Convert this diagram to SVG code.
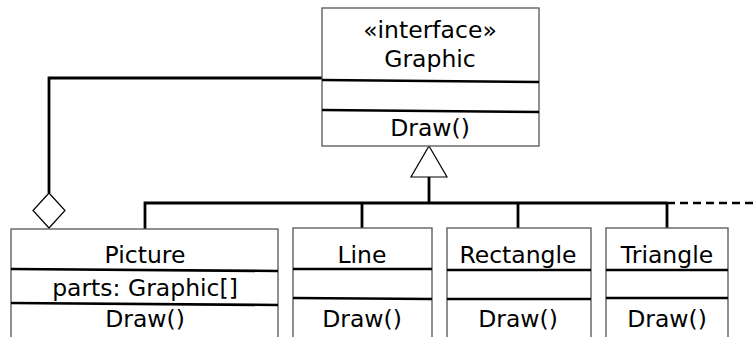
<svg xmlns="http://www.w3.org/2000/svg" width="756" height="337" viewBox="0 0 756 337">
<style>
.box{fill:#fff;stroke:#555;stroke-width:1.3}
.sep{stroke:#000;stroke-width:2.6}
.conn{fill:none;stroke:#000;stroke-width:2.8}
.dash{fill:none;stroke:#000;stroke-width:2.4;stroke-dasharray:8,5}
.head{fill:#fff;stroke:#000;stroke-width:1.2}
text{font-family:"DejaVu Sans","Noto Sans",sans-serif;font-size:23.5px;fill:#000;text-anchor:middle}
</style>
<rect width="756" height="337" fill="#fff"/>
<g id="connectors">
<path class="conn" d="M322 78 H49 V193"/>
<path class="conn" d="M145 229 V203 H667 M362 203 V228 M518 203 V228 M667 203 V228 M429 177 V203"/>
<path class="dash" d="M667 203 H756"/>
<polygon class="head" points="49,193 65,210.5 49,228 33,210.5"/>
<polygon class="head" points="429,146 447,177 411,177"/>
</g>
<g id="graphic">
<rect class="box" x="322" y="8" width="217" height="138"/>
<line class="sep" x1="322" y1="80" x2="539" y2="82"/>
<line class="sep" x1="322" y1="110" x2="539" y2="112"/>
<text x="430" y="38">«interface»</text>
<text x="430" y="67">Graphic</text>
<text x="430" y="136">Draw()</text>
</g>
<g id="picture">
<rect class="box" x="11" y="229" width="267" height="130"/>
<line class="sep" x1="11" y1="269" x2="278" y2="271"/>
<line class="sep" x1="11" y1="303" x2="278" y2="305"/>
<text x="145" y="263">Picture</text>
<text x="145" y="296">parts: Graphic[]</text>
<text x="145" y="327">Draw()</text>
</g>
<g id="line">
<rect class="box" x="293" y="228" width="139" height="130"/>
<line class="sep" x1="293" y1="269" x2="432" y2="269"/>
<line class="sep" x1="293" y1="298" x2="432" y2="299"/>
<text x="362" y="263">Line</text>
<text x="362" y="327">Draw()</text>
</g>
<g id="rectangle">
<rect class="box" x="447" y="228" width="144" height="130"/>
<line class="sep" x1="447" y1="270" x2="591" y2="270"/>
<line class="sep" x1="447" y1="299" x2="591" y2="299"/>
<text x="518" y="263">Rectangle</text>
<text x="518" y="327">Draw()</text>
</g>
<g id="triangle">
<rect class="box" x="606" y="228" width="122" height="130"/>
<line class="sep" x1="606" y1="270" x2="728" y2="270"/>
<line class="sep" x1="606" y1="298" x2="728" y2="298"/>
<text x="667" y="263">Triangle</text>
<text x="667" y="327">Draw()</text>
</g>
</svg>
